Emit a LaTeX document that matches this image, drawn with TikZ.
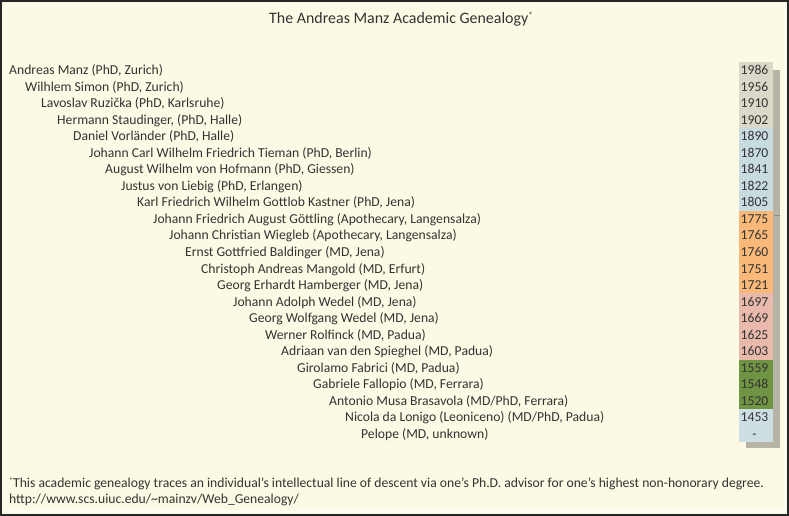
\documentclass[tikz,border=0pt]{standalone}
\usepackage{fontspec}
\setmainfont{Carlito}
\definecolor{bg}{HTML}{FCFAE4}
\definecolor{txt}{HTML}{333333}
\definecolor{cgray}{HTML}{DAD8C9}
\definecolor{cblue}{HTML}{C8DCE0}
\definecolor{corange}{HTML}{FAB978}
\definecolor{cpink}{HTML}{E9BAAC}
\definecolor{cgreen}{HTML}{6F9443}
\definecolor{cshadow}{HTML}{B5B4A5}
\begin{document}
\begin{tikzpicture}[x=1bp,y=-1bp,
  person/.style={anchor=base west, inner sep=0pt, text=txt, font=\fontsize{13.7}{15}\selectfont},
  year/.style={anchor=base, inner sep=0pt, text=txt, font=\fontsize{13.7}{15}\selectfont}]
\useasboundingbox (0,0) rectangle (789,516);
\fill[bg] (0,0) rectangle (789,516);
\draw[line width=2bp, black!85] (1,1) rectangle (788,515);
\draw[line width=0.6bp, white!70!bg] (5,5) rectangle (784,511);
% title
\node[anchor=base, inner sep=0pt, text=txt, font=\fontsize{16}{18}\selectfont] (title) at (401,24) {The Andreas Manz Academic Genealogy\raisebox{5bp}{\fontsize{9}{10}\selectfont *}};
% shadow and color bands
\fill[cshadow] (746,70) rectangle (780,448);
\def\rh{16.545}
\def\top{61.7}
\fill[cgray]   (739,{\top+0*\rh}) rectangle (772.5,{\top+4*\rh});
\fill[cblue]   (739,{\top+4*\rh}) rectangle (772.5,{\top+9*\rh});
\fill[corange] (739,{\top+9*\rh}) rectangle (772.5,{\top+14*\rh});
\fill[cpink]   (739,{\top+14*\rh}) rectangle (772.5,{\top+18*\rh});
\fill[cgreen]  (739,{\top+18*\rh}) rectangle (772.5,{\top+21*\rh});
\fill[cblue!90!white] (739,{\top+21*\rh}) rectangle (772.5,{\top+23*\rh});
\draw[black!45, line width=1bp] (774,215.5) -- (780,215.5);
\draw[black!30, line width=1bp] (774,300) -- (780,300);
% rows
\foreach [count=\i from 0] \nm/\yr in {
 {Andreas Manz (PhD, Zurich)}/1986,
 {Wilhlem Simon (PhD, Zurich)}/1956,
 {Lavoslav Ruzička (PhD, Karlsruhe)}/1910,
 {Hermann Staudinger, (PhD, Halle)}/1902,
 {Daniel Vorländer (PhD, Halle)}/1890,
 {Johann Carl Wilhelm Friedrich Tieman (PhD, Berlin)}/1870,
 {August Wilhelm von Hofmann (PhD, Giessen)}/1841,
 {Justus von Liebig (PhD, Erlangen)}/1822,
 {Karl Friedrich Wilhelm Gottlob Kastner (PhD, Jena)}/1805,
 {Johann Friedrich August Göttling (Apothecary, Langensalza)}/1775,
 {Johann Christian Wiegleb (Apothecary, Langensalza)}/1765,
 {Ernst Gottfried Baldinger (MD, Jena)}/1760,
 {Christoph Andreas Mangold (MD, Erfurt)}/1751,
 {Georg Erhardt Hamberger (MD, Jena)}/1721,
 {Johann Adolph Wedel (MD, Jena)}/1697,
 {Georg Wolfgang Wedel (MD, Jena)}/1669,
 {Werner Rolfinck (MD, Padua)}/1625,
 {Adriaan van den Spieghel (MD, Padua)}/1603,
 {Girolamo Fabrici (MD, Padua)}/1559,
 {Gabriele Fallopio (MD, Ferrara)}/1548,
 {Antonio Musa Brasavola (MD/PhD, Ferrara)}/1520,
 {Nicola da Lonigo (Leoniceno) (MD/PhD, Padua)}/1453,
 {Pelope (MD, unknown)}/-}
{
  \node[person] (n\i) at ({9+16*\i},{74.5+\i*\rh}) {\nm};
  \node[year] (y\i) at (754.5,{74.5+\i*\rh}) {\yr};
}
% footnote
\node[anchor=base west, inner sep=0pt, text=txt, font=\fontsize{13.7}{15}\selectfont] (foot) at (9,487) {\raisebox{4bp}{\fontsize{8}{9}\selectfont *}This academic genealogy traces an individual’s intellectual line of descent via one’s Ph.D. advisor for one’s highest non-honorary degree.};
\node[anchor=base west, inner sep=0pt, text=txt, font=\fontsize{13.7}{15}\selectfont] (url) at (9,503) {http://www.scs.uiuc.edu/\char`~mainzv/Web\_Genealogy/};
\end{tikzpicture}
\end{document}
